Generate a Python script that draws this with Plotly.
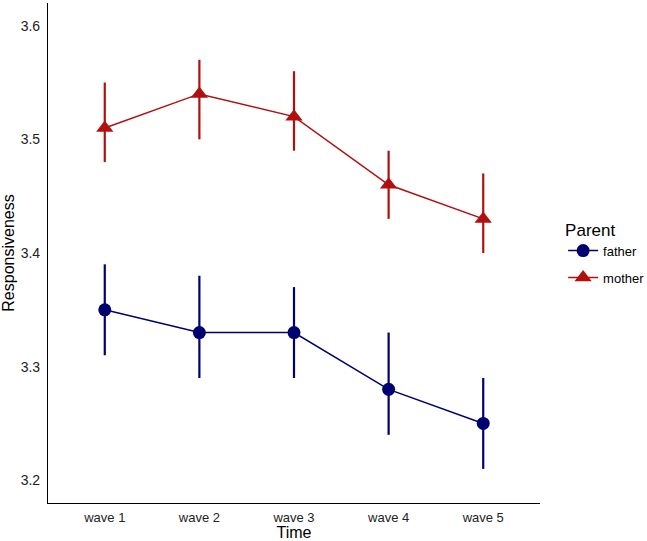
import plotly.graph_objects as go

waves = ["wave 1", "wave 2", "wave 3", "wave 4", "wave 5"]
father_mean = [3.35, 3.33, 3.33, 3.28, 3.25]
father_low = [3.31, 3.29, 3.29, 3.24, 3.21]
father_high = [3.39, 3.38, 3.37, 3.33, 3.29]
mother_mean = [3.51, 3.54, 3.52, 3.46, 3.43]
mother_low = [3.48, 3.50, 3.49, 3.43, 3.40]
mother_high = [3.55, 3.57, 3.56, 3.49, 3.47]

FATHER_C = "#000070"
MOTHER_C = "#B0100F"

def trace(name, mean, low, high, color, symbol, size):
    return go.Scatter(
        x=waves, y=mean, name=name, mode="lines+markers", legendgroup=name,
        line=dict(color=color, width=1.5),
        marker=dict(color=color, symbol=symbol, size=size),
        error_y=dict(type="data", symmetric=False,
                     array=[h - m for h, m in zip(high, mean)],
                     arrayminus=[m - l for m, l in zip(mean, low)],
                     color=color, thickness=2.2, width=0),
    )

fig = go.Figure()
fig.add_trace(trace("father", father_mean, father_low, father_high, FATHER_C, "circle", 13))
fig.add_trace(trace("mother", mother_mean, mother_low, mother_high, MOTHER_C, "triangle-up", 15))

fig.update_layout(
    width=647, height=541,
    margin=dict(l=48, r=107, t=3, b=38, autoexpand=False),
    paper_bgcolor="white", plot_bgcolor="white",
    font=dict(family="Liberation Sans, Arial, sans-serif", color="#222222"),
    xaxis=dict(range=[-0.6, 4.6], showline=True, linecolor="black", linewidth=1.2,
               ticks="", showgrid=False, zeroline=False, automargin=False,
               ticklabelstandoff=2,
               tickfont=dict(size=13, color="#222222"),
               title=dict(text="Time", font=dict(size=16, color="black"), standoff=0)),
    yaxis=dict(range=[3.18, 3.62], showline=True, linecolor="black", linewidth=1.2,
               ticks="", showgrid=False, zeroline=False, automargin=False,
               ticklabelstandoff=4,
               tickvals=[3.2, 3.3, 3.4, 3.5, 3.6], ticktext=["3.2", "3.3", "3.4", "3.5", "3.6"],
               tickfont=dict(size=14, color="#222222"),
               title=dict(text="Responsiveness", font=dict(size=16, color="black"), standoff=4)),
    legend=dict(x=1.047, y=0.5, yanchor="middle", xanchor="left",
                title=dict(text="Parent", font=dict(size=17, color="black")),
                font=dict(size=13, color="black"), tracegroupgap=7),
    showlegend=True,
)

fig.write_html("out.html", post_script="document.body.style.margin='0';",
               config={"displayModeBar": False})
